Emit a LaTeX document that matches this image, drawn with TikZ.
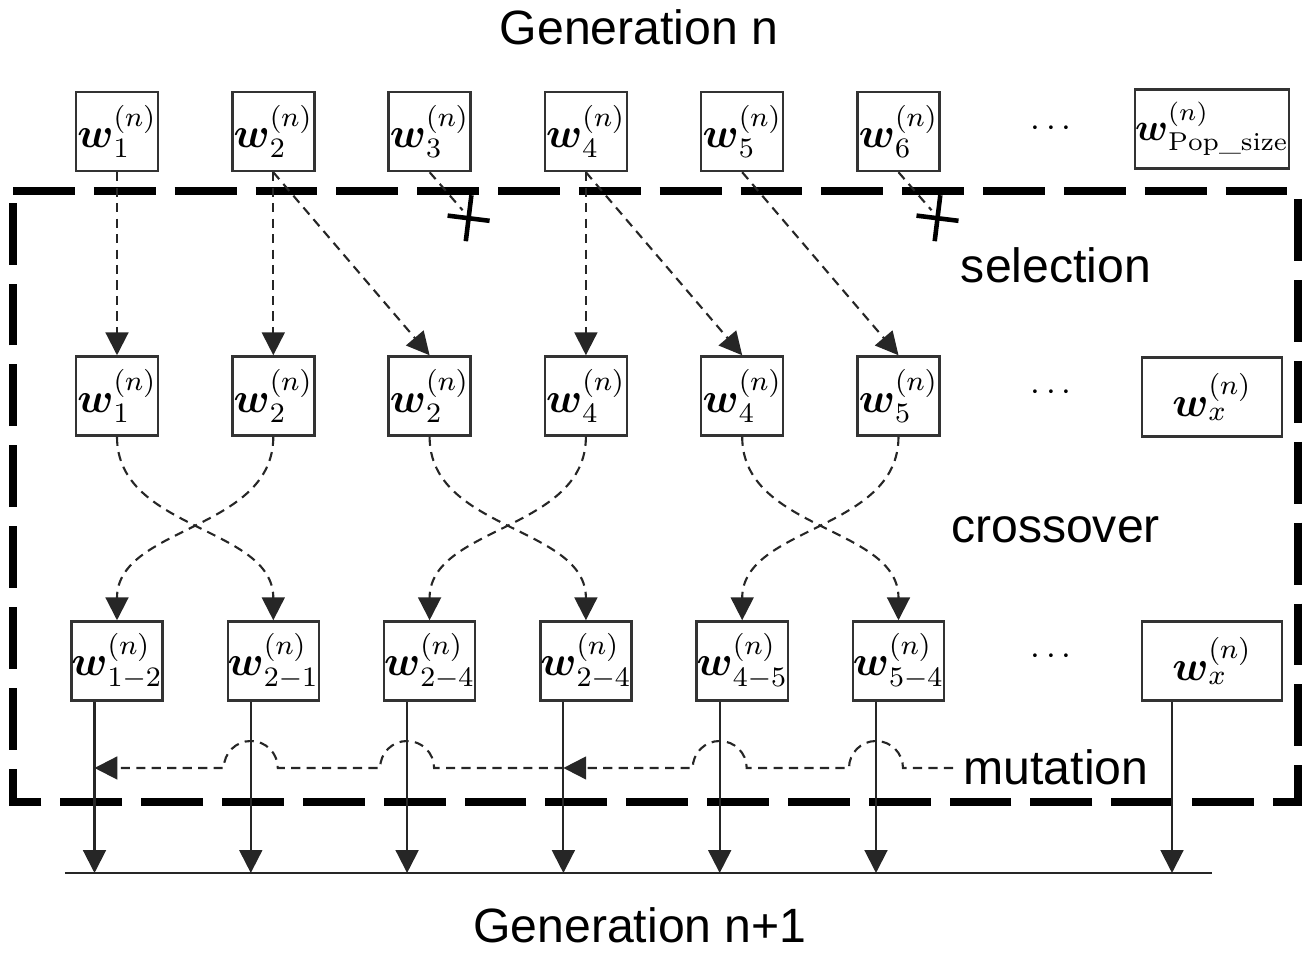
\documentclass[tikz,border=0pt]{standalone}
\usepackage{amsmath}
\usepackage{fontspec}
\newfontfamily\labelfont{Liberation Sans}
\usetikzlibrary{arrows.meta}
\tikzset{
  wbox/.style={draw=black!80, line width=0.7pt, minimum width=0.82cm, minimum height=0.79cm, inner sep=0pt, font=\fontsize{11.5}{14}\selectfont},
  cbox/.style={wbox, minimum width=0.89cm},
  widebox/.style={wbox, minimum width=1.4cm},
  flow/.style={draw=black!85, line width=0.6pt, dash pattern=on 2.6pt off 1.8pt, -{Triangle[length=6.5pt,width=6.5pt]}},
  blocked/.style={draw=black!85, line width=0.6pt, dash pattern=on 2.6pt off 1.8pt},
  pass/.style={draw=black!85, line width=0.6pt, -{Triangle[length=6.5pt,width=6.5pt]}},
  cross/.style={line width=1.3pt},
  frame/.style={line width=2.3pt, dash pattern=on 17.6pt off 5.4pt},
  stage/.style={font=\labelfont\fontsize{13.7}{16}\selectfont, anchor=base},
}
\begin{document}
\begin{tikzpicture}
\useasboundingbox (0,0) rectangle (13.04,9.56);
\node[stage] (gen) at (6.39,9.11) {Generation n};
\node[stage] (next) at (6.40,0.13) {Generation n+1};
\node[stage] (sel) at (10.56,6.73) {selection};
\node[stage] (cro) at (10.555,4.13) {crossover};
\node[stage] (mut) at (10.56,1.71) {mutation};
\foreach \i/\x in {1/1.17,2/2.733,3/4.296,4/5.859,5/7.422,6/8.985}
  \node[wbox] (t\i) at (\x,8.245) {$\boldsymbol{w}^{(n)}_{\i}$};
\node[widebox, font=\fontsize{10.5}{13}\selectfont] (tp) at (12.12,8.27) {$\boldsymbol{w}^{(n)}_{\mathrm{Pop\_size}}$};
\foreach \i/\x/\k in {1/1.17/1,2/2.733/2,3/4.296/2,4/5.859/4,5/7.422/4,6/8.985/5}
  \node[wbox] (m\i) at (\x,5.60) {$\boldsymbol{w}^{(n)}_{\k}$};
\node[widebox] (mx) at (12.12,5.59) {$\boldsymbol{w}^{(n)}_{x}$};
\foreach \i/\x/\k in {1/1.17/1-2,2/2.733/2-1,3/4.296/2-4,4/5.859/2-4,5/7.422/4-5,6/8.985/5-4}
  \node[cbox] (b\i) at (\x,2.95) {$\boldsymbol{w}^{(n)}_{\k}$};
\node[widebox] (bx) at (12.12,2.95) {$\boldsymbol{w}^{(n)}_{x}$};
\node (d1) at (10.54,8.27) {$\cdots$};
\node (d2) at (10.54,5.63) {$\cdots$};
\node (d3) at (10.54,2.99) {$\cdots$};
\coordinate (tl) at (0.13,7.65);
\coordinate (tr) at (12.98,7.65);
\coordinate (br) at (12.98,1.54);
\coordinate (bl) at (0.13,1.54);
\draw[frame] (tl) -- (tr) -- (br) -- (bl) -- cycle;
\foreach \a/\b in {1/1,2/2,2/3,4/4,4/5,5/6}
  \draw[flow] (t\a.south) -- (m\b.north);
\foreach \i in {3,6} {
  \draw[blocked] (t\i.south) -- ++(0.33,-0.38);
  \coordinate (x\i) at ([shift={(0.39,-0.46)}]t\i.south);
  \draw[cross] (x\i) ++(-0.21,0.026) -- ++(0.42,-0.052);
  \draw[cross] (x\i) ++(0.028,0.23) -- ++(-0.056,-0.46);
}
\foreach \a/\b in {1/2,2/1,3/4,4/3,5/6,6/5}
  \draw[flow] (m\a.south) to[out=-90,in=90] (b\b.north);
\coordinate (base) at (0.65,0.83);
\coordinate (end) at (12.12,0.83);
\coordinate (ms) at (9.53,1.88);
\draw[draw=black!85, line width=0.6pt] (base) -- (end);
\foreach \i in {1,...,6} {
  \coordinate (o\i) at ([xshift=-0.225cm]b\i.south);
  \coordinate (h\i) at (o\i |- ms);
  \draw[pass] (o\i) -- (o\i |- base);
}
\coordinate (ox) at ([xshift=-0.40cm]bx.south);
\draw[pass] (ox) -- (ox |- base);
\draw[flow] (ms) -- ([xshift=0.27cm]h6) arc[start angle=0,end angle=180,radius=0.27]
  -- ([xshift=0.27cm]h5) arc[start angle=0,end angle=180,radius=0.27] -- (h4);
\draw[flow] (h4) -- ([xshift=0.27cm]h3) arc[start angle=0,end angle=180,radius=0.27]
  -- ([xshift=0.27cm]h2) arc[start angle=0,end angle=180,radius=0.27] -- (h1);
\end{tikzpicture}
\end{document}
